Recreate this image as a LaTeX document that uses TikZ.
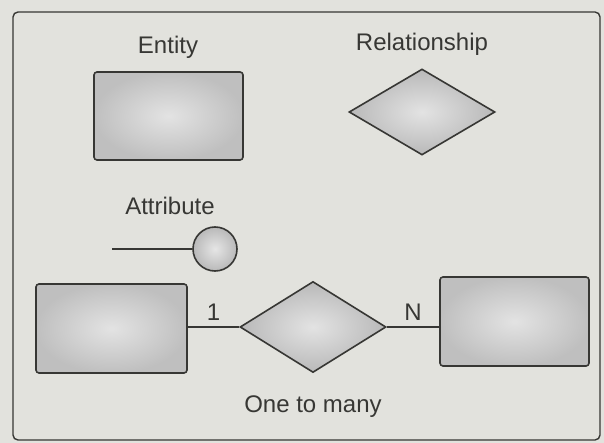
\documentclass[tikz,border=0pt]{standalone}
\usepackage{fontspec}
\setmainfont{Liberation Sans}
\usepackage{tikz}
\usetikzlibrary{shapes.geometric}

\definecolor{paper}{RGB}{226,226,221}
\definecolor{ink}{RGB}{55,55,52}

\tikzset{
	entitybox/.style={draw=ink, line width=1.6pt, rounded corners=3pt, inner sep=0pt,
		shading=radial, inner color=gray!22, outer color=gray!50},
	relbox/.style={diamond, draw=ink, line width=1.6pt, inner sep=0pt,
		shading=radial, inner color=gray!22, outer color=gray!55},
	attrbox/.style={circle, draw=ink, line width=1.6pt, inner sep=0pt, minimum size=44pt,
		shading=radial, inner color=gray!20, outer color=gray!55},
	conn/.style={draw=ink, line width=1.4pt},
	lbl/.style={text=ink, font=\fontsize{24}{28}\selectfont}
}

\begin{document}
\begin{tikzpicture}[x=1pt, y=-1pt]
		\fill[paper] (0,0) rectangle (604,443);
		\draw[ink, line width=1.4pt, rounded corners=5pt] (13,12) rectangle (600,440);
		
		% legend
		\node[lbl] (entlbl) at (168,47) {Entity};
		\node[entitybox, minimum width=149pt, minimum height=88pt] (ent) at (168.5,116) {};
		\node[lbl] (rellbl) at (422,44) {Relationship};
		\node[relbox, minimum width=146pt, minimum height=86pt] (rel) at (422,112) {};
		\node[lbl] (attrlbl) at (170,206) {Attribute};
		\node[attrbox] (attr) at (215,249) {};
		\coordinate (attrend) at (112,249);
		\draw[conn] (attrend) -- (attr);
		
		% one to many
		\node[entitybox, minimum width=151pt, minimum height=89pt] (one) at (111.5,328.5) {};
		\node[relbox, minimum width=146pt, minimum height=91pt] (has) at (313,327) {};
		\node[entitybox, minimum width=149pt, minimum height=89pt] (many) at (514.5,321.5) {};
		\draw[conn] (one.east |- has.west) -- node[lbl, above=2pt] {1} (has.west);
		\draw[conn] (has.east) -- node[lbl, above=2pt] {N} (many.west |- has.east);
		\node[lbl] (card) at (313,407) {One to many};
	\end{tikzpicture}
\end{document}
